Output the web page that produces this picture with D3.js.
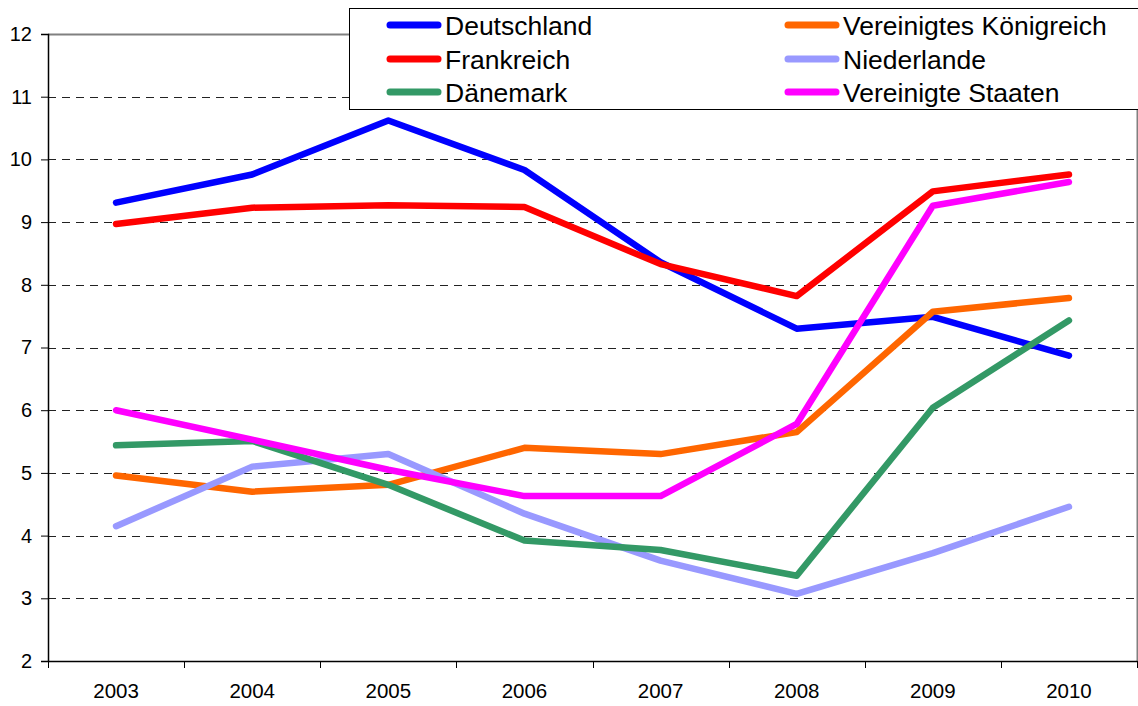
<!DOCTYPE html>
<html>
<head>
<meta charset="utf-8">
<script src="https://cdn.jsdelivr.net/npm/d3@7"></script>
<style>
html,body{margin:0;padding:0;background:#fff;}
svg{display:block;font-family:"Liberation Sans",Arial,sans-serif;}
</style>
</head>
<body>
<svg id="chart" width="1138" height="706"></svg>
<script>
const years = ["2003","2004","2005","2006","2007","2008","2009","2010"];
const yTicks = [2,3,4,5,6,7,8,9,10,11,12];

const deutschland = [9.31, 9.76, 10.62, 9.83, 8.36, 7.30, 7.49, 6.87];
const vereinigtesKoenigreich = [4.96, 4.70, 4.81, 5.40, 5.30, 5.65, 7.57, 7.79];
const frankreich = [8.97, 9.23, 9.27, 9.24, 8.33, 7.82, 9.49, 9.76];
const niederlande = [4.15, 5.10, 5.30, 4.35, 3.60, 3.07, 3.72, 4.46];
const daenemark = [5.44, 5.51, 4.81, 3.92, 3.77, 3.36, 6.04, 7.43];
const vereinigteStaaten = [6.00, 5.53, 5.05, 4.63, 4.63, 5.78, 9.26, 9.64];

const seriesNames = ["Deutschland","Vereinigtes Königreich","Frankreich","Niederlande","Dänemark","Vereinigte Staaten"];
const seriesColors = ["#0000FF","#FF6600","#FF0000","#9999FF","#339966","#FF00FF"];
const seriesValues = [deutschland, vereinigtesKoenigreich, frankreich, niederlande, daenemark, vereinigteStaaten];

const svg = d3.select("#chart");
const L = 48, R = 1137, T = 34, B = 661;

const x = d3.scaleBand().domain(years).range([L, R]).padding(0);
const y = d3.scaleLinear().domain([2, 12]).range([B, T]);

// gridlines
svg.append("g").selectAll("line").data(yTicks.filter(d => d > 2 && d < 12)).join("line")
  .attr("x1", L).attr("x2", R)
  .attr("y1", d => Math.round(y(d)) + 0.5).attr("y2", d => Math.round(y(d)) + 0.5)
  .attr("stroke", "#222").attr("stroke-width", 1).attr("stroke-dasharray", "8,6");

// plot border top / right (gray)
svg.append("line").attr("x1", L).attr("x2", R + 0.5).attr("y1", T + 0.5).attr("y2", T + 0.5)
  .attr("stroke", "#808080").attr("stroke-width", 2);
svg.append("line").attr("x1", R + 0.5).attr("x2", R + 0.5).attr("y1", T).attr("y2", B)
  .attr("stroke", "#808080").attr("stroke-width", 2);

// y axis
const yAxis = svg.append("g").attr("transform", `translate(${L},0)`)
  .call(d3.axisLeft(y).tickValues(yTicks).tickSize(7).tickPadding(9).tickFormat(d3.format("d")));
yAxis.select(".domain").attr("stroke", "#000").attr("stroke-width", 1.5);
yAxis.selectAll(".tick line").attr("stroke", "#000");
yAxis.selectAll("text").attr("font-size", 20).attr("fill", "#000")
  .attr("font-family", "Liberation Sans, Arial, sans-serif");

// x axis
const xAxis = svg.append("g").attr("transform", `translate(0,${B})`)
  .call(d3.axisBottom(x).tickSize(0).tickPadding(22));
xAxis.select(".domain").attr("stroke", "#000").attr("stroke-width", 1.5);
xAxis.selectAll("text").attr("font-size", 20.5).attr("fill", "#000")
  .attr("font-family", "Liberation Sans, Arial, sans-serif");
// category boundary ticks
const bounds = years.map(d => x(d)).concat([x(years[years.length-1]) + x.bandwidth()]);
svg.append("g").selectAll("line").data(bounds).join("line")
  .attr("x1", d => Math.round(d) + 0.5).attr("x2", d => Math.round(d) + 0.5)
  .attr("y1", B).attr("y2", B + 7).attr("stroke", "#000").attr("stroke-width", 1);

// lines
const line = d3.line().x((d, i) => x(years[i]) + x.bandwidth() / 2).y(d => y(d));
svg.append("g").selectAll("path").data(seriesValues).join("path")
  .attr("d", d => line(d))
  .attr("fill", "none")
  .attr("stroke", (d, i) => seriesColors[i])
  .attr("stroke-width", 6.5)
  .attr("stroke-linejoin", "round")
  .attr("stroke-linecap", "round");

// legend
const lg = svg.append("g");
lg.append("rect").attr("x", 349.5).attr("y", 8.5).attr("width", 800).attr("height", 101)
  .attr("fill", "#fff").attr("stroke", "#000").attr("stroke-width", 1);
const colX = [387, 785];
const rowY = [25, 59, 92];
seriesNames.forEach((name, i) => {
  const cx = colX[i % 2], cy = rowY[Math.floor(i / 2)];
  lg.append("line").attr("x1", cx + 3).attr("x2", cx + 51).attr("y1", cy).attr("y2", cy)
    .attr("stroke", seriesColors[i]).attr("stroke-width", 7).attr("stroke-linecap", "round");
  lg.append("text").attr("x", cx + 58).attr("y", cy + 1).attr("dy", "0.35em")
    .attr("font-size", 26.5).attr("fill", "#000").text(name);
});
</script>
</body>
</html>
